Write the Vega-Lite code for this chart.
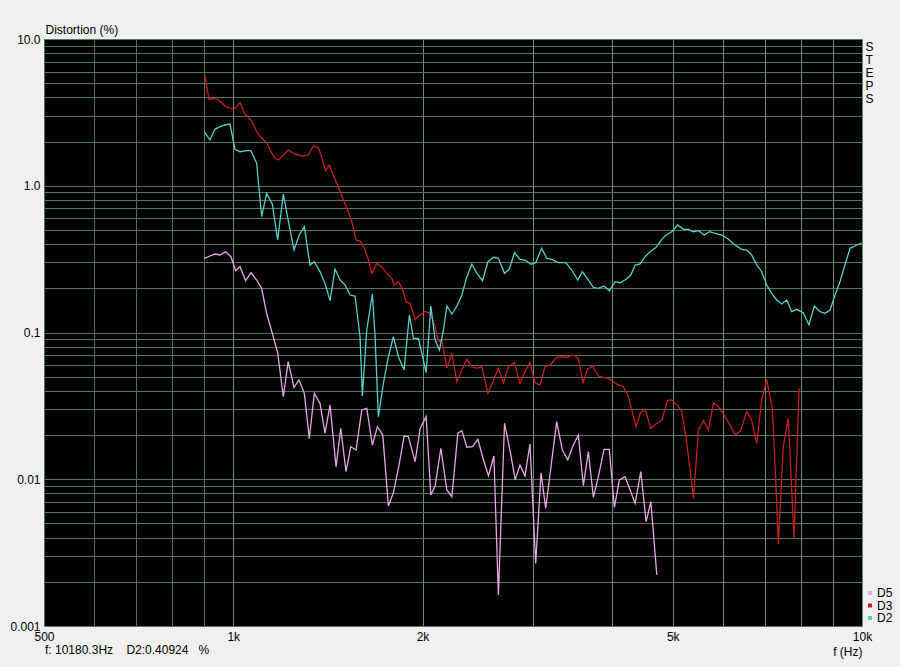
{
"$schema": "https://vega.github.io/schema/vega-lite/v6.json",
"width": 818, "height": 587,
"autosize": {"type": "none"},
"padding": {"left": 44, "top": 39, "right": 38, "bottom": 41},
"background": "#f0f0f0",
"title": {"text": "f: 10180.3Hz\u00a0\u00a0\u00a0\u00a0D2:0.40924\u00a0\u00a0\u00a0%", "orient": "bottom", "anchor": "start", "frame": "group", "offset": -12, "fontSize": 12, "fontWeight": "normal", "font": "Liberation Sans", "color": "#000", "dx": 1},
"config": {"view": {"fill": "#000000", "stroke": null}, "font": "Liberation Sans"},
"data": {"values": [
{"s":"D3","f":901.5,"d":5.6},{"s":"D3","f":914.8,"d":3.88},{"s":"D3","f":929.3,"d":3.94},{"s":"D3","f":944.4,"d":3.88},{"s":"D3","f":958.4,"d":3.68},{"s":"D3","f":972.5,"d":3.46},{"s":"D3","f":991.6,"d":3.37},{"s":"D3","f":1006.3,"d":3.37},{"s":"D3","f":1024.9,"d":3.68},{"s":"D3","f":1041.2,"d":3.12},{"s":"D3","f":1056.6,"d":2.93},{"s":"D3","f":1072,"d":2.73},{"s":"D3","f":1089.5,"d":2.335},{"s":"D3","f":1106.7,"d":2.14},{"s":"D3","f":1130,"d":1.965},{"s":"D3","f":1148.1,"d":1.706},{"s":"D3","f":1165.1,"d":1.538},{"s":"D3","f":1179.1,"d":1.498},{"s":"D3","f":1201.1,"d":1.62},{"s":"D3","f":1222.7,"d":1.752},{"s":"D3","f":1245.9,"d":1.664},{"s":"D3","f":1268.3,"d":1.62},{"s":"D3","f":1292.5,"d":1.594},{"s":"D3","f":1315.7,"d":1.62},{"s":"D3","f":1340.7,"d":1.866},{"s":"D3","f":1364.8,"d":1.828},{"s":"D3","f":1382.5,"d":1.57},{"s":"D3","f":1401.9,"d":1.26},{"s":"D3","f":1422.4,"d":1.385},{"s":"D3","f":1442.7,"d":1.183},{"s":"D3","f":1468.6,"d":0.985},{"s":"D3","f":1496.7,"d":0.8},{"s":"D3","f":1523.5,"d":0.666},{"s":"D3","f":1543.2,"d":0.569},{"s":"D3","f":1567.8,"d":0.427},{"s":"D3","f":1595.1,"d":0.416},{"s":"D3","f":1620.4,"d":0.365},{"s":"D3","f":1640.2,"d":0.312},{"s":"D3","f":1660.7,"d":0.253},{"s":"D3","f":1691.3,"d":0.296},{"s":"D3","f":1722.7,"d":0.281},{"s":"D3","f":1754.6,"d":0.253},{"s":"D3","f":1787,"d":0.234},{"s":"D3","f":1802.1,"d":0.211},{"s":"D3","f":1830.9,"d":0.222},{"s":"D3","f":1860.5,"d":0.195},{"s":"D3","f":1883.2,"d":0.162},{"s":"D3","f":1911.1,"d":0.158},{"s":"D3","f":1946.5,"d":0.123},{"s":"D3","f":1982.5,"d":0.132},{"s":"D3","f":2019.2,"d":0.139},{"s":"D3","f":2056.5,"d":0.135},{"s":"D3","f":2094.5,"d":0.1095},{"s":"D3","f":2120.1,"d":0.0866},{"s":"D3","f":2146.6,"d":0.0889},{"s":"D3","f":2186.2,"d":0.0573},{"s":"D3","f":2226.8,"d":0.0722},{"s":"D3","f":2267.9,"d":0.0462},{"s":"D3","f":2309.9,"d":0.0555},{"s":"D3","f":2352.5,"d":0.0657},{"s":"D3","f":2396.2,"d":0.0585},{"s":"D3","f":2440.5,"d":0.057},{"s":"D3","f":2485.7,"d":0.0585},{"s":"D3","f":2541,"d":0.0385},{"s":"D3","f":2593.8,"d":0.0475},{"s":"D3","f":2640.4,"d":0.057},{"s":"D3","f":2690.6,"d":0.0455},{"s":"D3","f":2739,"d":0.0585},{"s":"D3","f":2801.3,"d":0.0623},{"s":"D3","f":2857.6,"d":0.0451},{"s":"D3","f":2910.5,"d":0.0541},{"s":"D3","f":2964.4,"d":0.0623},{"s":"D3","f":3019.2,"d":0.0455},{"s":"D3","f":3075.1,"d":0.0439},{"s":"D3","f":3132,"d":0.0585},{"s":"D3","f":3189.9,"d":0.0601},{"s":"D3","f":3269,"d":0.0678},{"s":"D3","f":3329.6,"d":0.0684},{"s":"D3","f":3391.2,"d":0.0678},{"s":"D3","f":3474.5,"d":0.0703},{"s":"D3","f":3538.7,"d":0.0667},{"s":"D3","f":3600.3,"d":0.0456},{"s":"D3","f":3657.7,"d":0.0561},{"s":"D3","f":3730.4,"d":0.0591},{"s":"D3","f":3808,"d":0.0505},{"s":"D3","f":3878.5,"d":0.0495},{"s":"D3","f":3950.1,"d":0.0487},{"s":"D3","f":4023.3,"d":0.0462},{"s":"D3","f":4097.6,"d":0.0439},{"s":"D3","f":4173.5,"d":0.0427},{"s":"D3","f":4250.6,"d":0.0365},{"s":"D3","f":4303.7,"d":0.0296},{"s":"D3","f":4372.2,"d":0.0228},{"s":"D3","f":4436.9,"d":0.0281},{"s":"D3","f":4519,"d":0.03},{"s":"D3","f":4614.6,"d":0.0222},{"s":"D3","f":4716.8,"d":0.0241},{"s":"D3","f":4804,"d":0.0253},{"s":"D3","f":4903.8,"d":0.0343},{"s":"D3","f":4983.4,"d":0.0347},{"s":"D3","f":5075.5,"d":0.0321},{"s":"D3","f":5169.5,"d":0.0289},{"s":"D3","f":5265,"d":0.0176},{"s":"D3","f":5394.5,"d":0.00742},{"s":"D3","f":5494.2,"d":0.0217},{"s":"D3","f":5596,"d":0.0251},{"s":"D3","f":5699.3,"d":0.0217},{"s":"D3","f":5805,"d":0.0332},{"s":"D3","f":5912.2,"d":0.0312},{"s":"D3","f":6059,"d":0.0267},{"s":"D3","f":6166,"d":0.0234},{"s":"D3","f":6296,"d":0.02},{"s":"D3","f":6420,"d":0.0218},{"s":"D3","f":6555,"d":0.0289},{"s":"D3","f":6676,"d":0.0253},{"s":"D3","f":6800,"d":0.0176},{"s":"D3","f":6926,"d":0.0347},{"s":"D3","f":7054,"d":0.0475},{"s":"D3","f":7201,"d":0.0304},{"s":"D3","f":7291,"d":0.00988},{"s":"D3","f":7360,"d":0.00362},{"s":"D3","f":7496,"d":0.01667},{"s":"D3","f":7635,"d":0.026},{"s":"D3","f":7796,"d":0.00396},{"s":"D3","f":7942,"d":0.0417},
{"s":"D2","f":899.2,"d":2.335},{"s":"D2","f":918.1,"d":2.05},{"s":"D2","f":935.1,"d":2.424},{"s":"D2","f":952.4,"d":2.525},{"s":"D2","f":970,"d":2.594},{"s":"D2","f":988,"d":2.635},{"s":"D2","f":1006.3,"d":1.771},{"s":"D2","f":1024.9,"d":1.706},{"s":"D2","f":1050.3,"d":1.733},{"s":"D2","f":1066.9,"d":1.733},{"s":"D2","f":1089.5,"d":1.422},{"s":"D2","f":1109.5,"d":0.615},{"s":"D2","f":1130,"d":0.888},{"s":"D2","f":1153.6,"d":0.751},{"s":"D2","f":1176.6,"d":0.427},{"s":"D2","f":1201.1,"d":0.878},{"s":"D2","f":1222.7,"d":0.584},{"s":"D2","f":1249,"d":0.365},{"s":"D2","f":1273.4,"d":0.462},{"s":"D2","f":1297.2,"d":0.526},{"s":"D2","f":1324.5,"d":0.288},{"s":"D2","f":1345.6,"d":0.304},{"s":"D2","f":1374,"d":0.26},{"s":"D2","f":1399.4,"d":0.216},{"s":"D2","f":1425.3,"d":0.165},{"s":"D2","f":1451.7,"d":0.27},{"s":"D2","f":1478.6,"d":0.228},{"s":"D2","f":1506,"d":0.211},{"s":"D2","f":1533.7,"d":0.18},{"s":"D2","f":1562.1,"d":0.177},{"s":"D2","f":1591,"d":0.0936},{"s":"D2","f":1604.5,"d":0.0369},{"s":"D2","f":1630.5,"d":0.104},{"s":"D2","f":1664.4,"d":0.183},{"s":"D2","f":1680.9,"d":0.0936},{"s":"D2","f":1701.4,"d":0.0267},{"s":"D2","f":1733,"d":0.0451},{"s":"D2","f":1765,"d":0.0684},{"s":"D2","f":1797.7,"d":0.0936},{"s":"D2","f":1830.9,"d":0.0684},{"s":"D2","f":1869.4,"d":0.0555},{"s":"D2","f":1905.9,"d":0.1316},{"s":"D2","f":1934.4,"d":0.0913},{"s":"D2","f":1970.2,"d":0.0913},{"s":"D2","f":1994.8,"d":0.0722},{"s":"D2","f":2026.5,"d":0.0532},{"s":"D2","f":2061.8,"d":0.1515},{"s":"D2","f":2094.5,"d":0.0889},{"s":"D2","f":2127.9,"d":0.076},{"s":"D2","f":2159.3,"d":0.104},{"s":"D2","f":2186.2,"d":0.1515},{"s":"D2","f":2226.8,"d":0.1336},{"s":"D2","f":2267.9,"d":0.1515},{"s":"D2","f":2309.9,"d":0.18},{"s":"D2","f":2352.5,"d":0.24},{"s":"D2","f":2396.2,"d":0.2916},{"s":"D2","f":2440.5,"d":0.2531},{"s":"D2","f":2491.3,"d":0.2254},{"s":"D2","f":2541,"d":0.3037},{"s":"D2","f":2593.8,"d":0.3254},{"s":"D2","f":2640.4,"d":0.3203},{"s":"D2","f":2700.5,"d":0.2531},{"s":"D2","f":2746.7,"d":0.2695},{"s":"D2","f":2801.3,"d":0.3498},{"s":"D2","f":2857.6,"d":0.3153},{"s":"D2","f":2910.5,"d":0.3119},{"s":"D2","f":2975.4,"d":0.2916},{"s":"D2","f":3027,"d":0.299},{"s":"D2","f":3094.2,"d":0.3747},{"s":"D2","f":3151.4,"d":0.3203},{"s":"D2","f":3209.7,"d":0.3153},{"s":"D2","f":3288.5,"d":0.299},{"s":"D2","f":3379,"d":0.299},{"s":"D2","f":3453.9,"d":0.2666},{"s":"D2","f":3530.8,"d":0.2279},{"s":"D2","f":3591.1,"d":0.2596},{"s":"D2","f":3670.8,"d":0.2279},{"s":"D2","f":3738.9,"d":0.2032},{"s":"D2","f":3808,"d":0.2001},{"s":"D2","f":3888,"d":0.2075},{"s":"D2","f":3963.9,"d":0.1927},{"s":"D2","f":4048.3,"d":0.2219},{"s":"D2","f":4123.2,"d":0.2184},{"s":"D2","f":4214.7,"d":0.2304},{"s":"D2","f":4288.3,"d":0.2465},{"s":"D2","f":4356.3,"d":0.2884},{"s":"D2","f":4436.9,"d":0.2929},{"s":"D2","f":4519,"d":0.3284},{"s":"D2","f":4602.6,"d":0.3553},{"s":"D2","f":4704.8,"d":0.3807},{"s":"D2","f":4804,"d":0.4316},{"s":"D2","f":4880.4,"d":0.4617},{"s":"D2","f":4983.4,"d":0.4863},{"s":"D2","f":5087.4,"d":0.5402},{"s":"D2","f":5200.3,"d":0.5049},{"s":"D2","f":5296.4,"d":0.5049},{"s":"D2","f":5394.5,"d":0.4863},{"s":"D2","f":5494.2,"d":0.494},{"s":"D2","f":5609.8,"d":0.4617},{"s":"D2","f":5719.2,"d":0.4863},{"s":"D2","f":5841.1,"d":0.4742},{"s":"D2","f":5986,"d":0.4617},{"s":"D2","f":6133,"d":0.4316},{"s":"D2","f":6280,"d":0.3947},{"s":"D2","f":6436,"d":0.3689},{"s":"D2","f":6555,"d":0.3649},{"s":"D2","f":6676,"d":0.3374},{"s":"D2","f":6800,"d":0.2884},{"s":"D2","f":6926,"d":0.2596},{"s":"D2","f":7054,"d":0.2107},{"s":"D2","f":7184,"d":0.185},{"s":"D2","f":7317,"d":0.1665},{"s":"D2","f":7452,"d":0.1563},{"s":"D2","f":7590,"d":0.1665},{"s":"D2","f":7731,"d":0.1386},{"s":"D2","f":7874,"d":0.1439},{"s":"D2","f":8067,"d":0.1364},{"s":"D2","f":8235,"d":0.1125},{"s":"D2","f":8398,"d":0.1515},{"s":"D2","f":8576,"d":0.1386},{"s":"D2","f":8735,"d":0.1351},{"s":"D2","f":8896,"d":0.1423},{"s":"D2","f":9061,"d":0.1801},{"s":"D2","f":9225,"d":0.2219},{"s":"D2","f":9396,"d":0.2884},{"s":"D2","f":9569,"d":0.3747},{"s":"D2","f":9746,"d":0.3885},{"s":"D2","f":10000,"d":0.409},
{"s":"D5","f":899.2,"d":0.3203},{"s":"D5","f":918.1,"d":0.3322},{"s":"D5","f":935.1,"d":0.3426},{"s":"D5","f":952.4,"d":0.3374},{"s":"D5","f":972.5,"d":0.3553},{"s":"D5","f":991.6,"d":0.3284},{"s":"D5","f":1008.8,"d":0.2638},{"s":"D5","f":1024.9,"d":0.2808},{"s":"D5","f":1046.5,"d":0.2254},{"s":"D5","f":1066.9,"d":0.2555},{"s":"D5","f":1089.5,"d":0.2279},{"s":"D5","f":1109.5,"d":0.2001},{"s":"D5","f":1130,"d":0.1351},{"s":"D5","f":1153.6,"d":0.0988},{"s":"D5","f":1176.6,"d":0.0728},{"s":"D5","f":1201.1,"d":0.0365},{"s":"D5","f":1222.7,"d":0.0633},{"s":"D5","f":1249,"d":0.0423},{"s":"D5","f":1272.4,"d":0.0475},{"s":"D5","f":1297.2,"d":0.0385},{"s":"D5","f":1321,"d":0.019},{"s":"D5","f":1345.6,"d":0.0385},{"s":"D5","f":1374,"d":0.0329},{"s":"D5","f":1399.4,"d":0.0206},{"s":"D5","f":1425.3,"d":0.0321},{"s":"D5","f":1457,"d":0.01217},{"s":"D5","f":1482.4,"d":0.0222},{"s":"D5","f":1511.4,"d":0.01126},{"s":"D5","f":1537.7,"d":0.01667},{"s":"D5","f":1567.8,"d":0.01583},{"s":"D5","f":1600.9,"d":0.02964},{"s":"D5","f":1630.5,"d":0.0304},{"s":"D5","f":1664.4,"d":0.01711},{"s":"D5","f":1695.1,"d":0.0228},{"s":"D5","f":1729.1,"d":0.02},{"s":"D5","f":1765,"d":0.00657},{"s":"D5","f":1797.7,"d":0.0081},{"s":"D5","f":1837.3,"d":0.01285},{"s":"D5","f":1869.4,"d":0.01971},{"s":"D5","f":1899.2,"d":0.01949},{"s":"D5","f":1946.5,"d":0.01317},{"s":"D5","f":1982.5,"d":0.0222},{"s":"D5","f":2026.5,"d":0.0267},{"s":"D5","f":2061.8,"d":0.00781},{"s":"D5","f":2094.5,"d":0.009},{"s":"D5","f":2138.9,"d":0.01626},{"s":"D5","f":2186.2,"d":0.00845},{"s":"D5","f":2226.8,"d":0.0076},{"s":"D5","f":2276,"d":0.0206},{"s":"D5","f":2309.9,"d":0.0214},{"s":"D5","f":2352.5,"d":0.01652},{"s":"D5","f":2401.6,"d":0.01667},{"s":"D5","f":2449.5,"d":0.01871},{"s":"D5","f":2500.4,"d":0.01353},{"s":"D5","f":2546.6,"d":0.01053},{"s":"D5","f":2597.4,"d":0.01441},{"s":"D5","f":2640.4,"d":0.001626},{"s":"D5","f":2700.5,"d":0.0241},{"s":"D5","f":2757.5,"d":0.01541},{"s":"D5","f":2808.5,"d":0.0099},{"s":"D5","f":2857.6,"d":0.01251},{"s":"D5","f":2910.5,"d":0.01053},{"s":"D5","f":2964.4,"d":0.01738},{"s":"D5","f":3027,"d":0.00267},{"s":"D5","f":3086.5,"d":0.01108},{"s":"D5","f":3140,"d":0.00634},{"s":"D5","f":3269,"d":0.02467},{"s":"D5","f":3337.2,"d":0.01583},{"s":"D5","f":3403.7,"d":0.01353},{"s":"D5","f":3474.5,"d":0.01711},{"s":"D5","f":3538.7,"d":0.02},{"s":"D5","f":3604.2,"d":0.00906},{"s":"D5","f":3670.8,"d":0.01541},{"s":"D5","f":3738.9,"d":0.00753},{"s":"D5","f":3808,"d":0.01041},{"s":"D5","f":3888,"d":0.016},{"s":"D5","f":3963.9,"d":0.016},{"s":"D5","f":4038,"d":0.00644},{"s":"D5","f":4112,"d":0.00988},{"s":"D5","f":4199.5,"d":0.01041},{"s":"D5","f":4277.2,"d":0.00845},{"s":"D5","f":4356.3,"d":0.00686},{"s":"D5","f":4448.4,"d":0.01126},{"s":"D5","f":4535.4,"d":0.00514},{"s":"D5","f":4614.6,"d":0.00703},{"s":"D5","f":4716.8,"d":0.00223}
]},
"layer": [
{"mark": {"type": "line", "strokeWidth": 1.3},
 "encoding": {
  "x": {"field": "f", "type": "quantitative",
   "scale": {"type": "log", "domain": [500, 10000], "nice": false},
   "axis": {"values": [500,600,700,800,900,1000,2000,3000,4000,5000,6000,7000,8000,9000,10000],
    "labelExpr": "datum.value==500?'500':datum.value==1000?'1k':datum.value==2000?'2k':datum.value==5000?'5k':datum.value==10000?'10k':''",
    "ticks": false, "domain": false, "grid": true,
    "gridColor": {"condition": {"test": "datum.value>=1000", "value": "#6a8e70"}, "value": "#4a7352"},
    "labelFlush": false, "labelOverlap": false, "labelBound": false, "labelPadding": 5,
    "labelFontSize": 12, "labelFont": "Liberation Sans", "labelColor": "#000",
    "title": "f (Hz)", "titleAlign": "right", "titleBaseline": "middle", "titleX": 818, "titleY": 25,
    "titleFontSize": 12, "titleFontWeight": "normal", "titleFont": "Liberation Sans", "titleColor": "#000"}},
  "y": {"field": "d", "type": "quantitative",
   "scale": {"type": "log", "domain": [0.001, 10], "nice": false},
   "axis": {"values": [0.001,0.002,0.003,0.004,0.005,0.006,0.007,0.008,0.009,0.01,0.02,0.03,0.04,0.05,0.06,0.07,0.08,0.09,0.1,0.2,0.3,0.4,0.5,0.6,0.7,0.8,0.9,1,2,3,4,5,6,7,8,9,10],
    "labelExpr": "datum.value==0.001?'0.001':datum.value==0.01?'0.01':datum.value==0.1?'0.1':datum.value==1?'1.0':datum.value==10?'10.0':''",
    "ticks": false, "domain": false, "grid": true, "gridColor": "#52775a",
    "labelFlush": false, "labelOverlap": false, "labelBound": false, "labelPadding": 4,
    "labelFontSize": 12, "labelFont": "Liberation Sans", "labelColor": "#000",
    "title": "Distortion (%)", "titleAngle": 0, "titleAlign": "left", "titleBaseline": "middle", "titleX": 1, "titleY": -10,
    "titleFontSize": 12, "titleFontWeight": "normal", "titleFont": "Liberation Sans", "titleColor": "#000"}},
  "color": {"field": "s", "type": "nominal",
   "scale": {"domain": ["D5", "D3", "D2"], "range": ["#e8a6e6", "#c41e1e", "#55d0cc"]},
   "legend": {"orient": "none", "legendX": 820, "legendY": 548, "title": null, "symbolType": "square", "symbolSize": 16,
    "symbolStrokeWidth": 0, "labelFontSize": 12, "labelFont": "Liberation Sans", "labelColor": "#000", "labelOffset": 1,
    "rowPadding": 0.5, "padding": 0,
    "encode": {"symbols": {"update": {"fill": {"scale": "color", "field": "value"}, "fillOpacity": {"value": 1}}}}}}
 }},
{"mark": {"type": "point", "opacity": 0},
 "encoding": {
  "x": {"field": "f", "type": "quantitative"},
  "y": {"field": "d", "type": "quantitative",
   "axis": {"orient": "right", "labels": false, "ticks": false, "domain": false, "grid": false,
    "title": ["S", "T", "E", "P", "S"], "titleAngle": 0, "titleAlign": "left", "titleBaseline": "top",
    "titleX": 3, "titleY": 2, "titleLineHeight": 13.2, "titleFontSize": 12, "titleFontWeight": "normal",
    "titleFont": "Liberation Sans", "titleColor": "#000"}}
 }}
],
"resolve": {"axis": {"y": "independent"}}
}
